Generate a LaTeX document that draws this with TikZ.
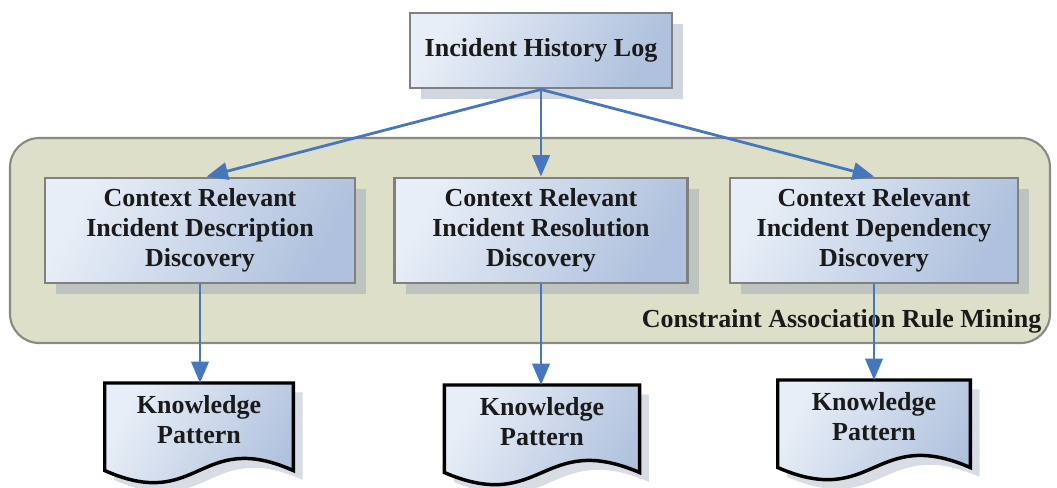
\documentclass[tikz,border=0pt]{standalone}
\usepackage{fontspec}
\setmainfont{Liberation Serif}
\usetikzlibrary{arrows.meta,shadows,calc}

\definecolor{boxlight}{HTML}{E8EEF7}
\definecolor{boxdark}{HTML}{AFC1DD}
\definecolor{boxedge}{HTML}{808080}
\definecolor{shadowc}{HTML}{8C9CB4}
\definecolor{panelfill}{HTML}{DEDFC8}
\definecolor{paneledge}{HTML}{8A8A82}
\definecolor{arrowc}{HTML}{4677BD}
\definecolor{inkc}{HTML}{1A1A1A}

\pgfdeclarelayer{docbg}
\pgfsetlayers{docbg,main}

% document shape (flat top, wavy bottom) drawn round a node
\newcommand\docshape[1]{%
  \begin{pgfonlayer}{docbg}
    \path[fill=shadowc, opacity=.35]
      let \p1=(#1.north west), \p2=(#1.south east) in
      ({\x1+7pt},{\y1-7pt}) -- ({\x2+7pt},{\y1-7pt}) -- ({\x2+7pt},{\y2-18.25pt})
      .. controls ({(\x1+\x2)/2+7pt},{\y2+13.25pt}) and ({(\x1+\x2)/2+7pt},{\y2-49.75pt}) ..
      ({\x1+7pt},{\y2-18.25pt}) -- cycle;
    \shadedraw[docstyle]
      let \p1=(#1.north west), \p2=(#1.south east) in
      (\x1,\y1) -- (\x2,\y1) -- ({\x2},{\y2-11.25pt})
      .. controls ({(\x1+\x2)/2},{\y2+20.25pt}) and ({(\x1+\x2)/2},{\y2-42.75pt}) ..
      ({\x1},{\y2-11.25pt}) -- cycle;
  \end{pgfonlayer}}

\begin{document}
\begin{tikzpicture}[x=0.75pt,y=-0.75pt,
  txt/.style={font={\fontsize{19.5pt}{22.5pt}\selectfont\bfseries}, text=inkc, align=center},
  procbox/.style={txt, draw=boxedge, line width=2.2pt, inner sep=2pt,
    left color=boxlight, right color=boxdark, shading angle=60,
    drop shadow={shadow xshift=8.5pt, shadow yshift=-8.5pt, fill=shadowc, opacity=.4}},
  panel/.style={draw=paneledge, line width=1.6pt, fill=panelfill, rounded corners=22pt},
  doctext/.style={txt, inner sep=0pt, minimum height=54pt},
  docstyle/.style={draw=black, line width=2.6pt, left color=boxlight, right color=boxdark, shading angle=60},
  flow/.style={draw=arrowc, line width=2.1pt, -{Triangle[length=16pt,width=13pt]}}
]
\useasboundingbox (0,0) rectangle (1057,487);

% mining panel
\node[panel, minimum width=780pt, minimum height=153.75pt] (panel) at (530,240.5) {};
\node[txt, anchor=base east] (panellbl) at (1046,327) {Constraint Association Rule Mining};

% source log
\node[procbox, minimum width=196.5pt, minimum height=56.25pt] (log) at (541,50.5) {Incident History Log};

% discovery steps
\node[procbox, minimum width=232.5pt, minimum height=78.75pt] (desc) at (200,230.5)
  {Context Relevant\\Incident Description\\Discovery};
\node[procbox, minimum width=219.75pt, minimum height=78.75pt] (reso) at (541,230.5)
  {Context Relevant\\Incident Resolution\\Discovery};
\node[procbox, minimum width=216pt, minimum height=78.75pt] (depe) at (874,230.5)
  {Context Relevant\\Incident Dependency\\Discovery};

% knowledge patterns
\node[doctext, minimum width=141pt, anchor=north] (kp1) at (199,383) {Knowledge\\Pattern};
\node[doctext, minimum width=146pt, anchor=north] (kp2) at (542,385) {Knowledge\\Pattern};
\node[doctext, minimum width=144pt, anchor=north] (kp3) at (874,380) {Knowledge\\Pattern};
\docshape{kp1}
\docshape{kp2}
\docshape{kp3}

% connectors
\draw[flow] (log.south) -- ([xshift=5pt]desc.north);
\draw[flow] (log.south) -- (reso.north);
\draw[flow] (log.south) -- (depe.north);
\draw[flow] (desc.south) -- (desc.south |- kp1.north);
\draw[flow] (reso.south) -- (reso.south |- kp2.north);
\draw[flow] (depe.south) -- (depe.south |- kp3.north);
\end{tikzpicture}
\end{document}
